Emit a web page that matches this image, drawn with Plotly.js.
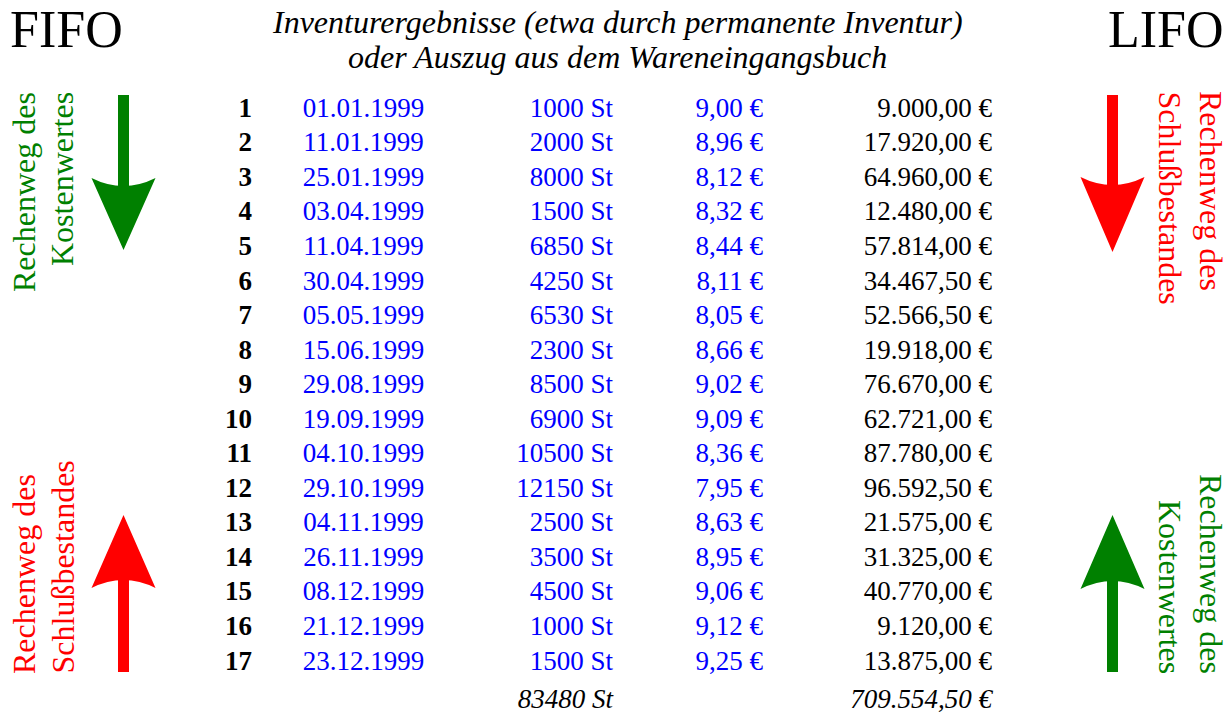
<!DOCTYPE html>
<html><head><meta charset="utf-8">
<script src="https://cdn.plot.ly/plotly-3.0.1.min.js"></script>
<style>html,body{margin:0;padding:0;background:#fff}</style>
</head><body><div id="chart" style="width:1231px;height:717px"></div>
<script>
// ---- data ----
const rowNumbers = [1,2,3,4,5,6,7,8,9,10,11,12,13,14,15,16,17];
const dates = ["01.01.1999","11.01.1999","25.01.1999","03.04.1999","11.04.1999","30.04.1999","05.05.1999","15.06.1999","29.08.1999","19.09.1999","04.10.1999","29.10.1999","04.11.1999","26.11.1999","08.12.1999","21.12.1999","23.12.1999"];
const quantities = [1000,2000,8000,1500,6850,4250,6530,2300,8500,6900,10500,12150,2500,3500,4500,1000,1500];
const prices = [9.00,8.96,8.12,8.32,8.44,8.11,8.05,8.66,9.02,9.09,8.36,7.95,8.63,8.95,9.06,9.12,9.25];
const amounts = [9000.00,17920.00,64960.00,12480.00,57814.00,34467.50,52566.50,19918.00,76670.00,62721.00,87780.00,96592.50,21575.00,31325.00,40770.00,9120.00,13875.00];
const totalQuantity = 83480;
const totalAmount = 709554.50;
const titleLines = ["Inventurergebnisse (etwa durch permanente Inventur)","oder Auszug aus dem Wareneingangsbuch"];

// ---- helpers ----
function de(n){
  const parts = n.toFixed(2).split(".");
  const int = parts[0].replace(/\B(?=(\d{3})+(?!\d))/g,".");
  return int + "," + parts[1];
}
const W = 1231, H = 717;
const FONT = "Liberation Serif, Times New Roman, serif";
const BLUE = "#0000ff", GREEN = "#008000", RED = "#ff0000";
const totalRow = rowNumbers.length + 1.12;
const fx = x => x / W;
const fy = y => 1 - y / H;

function col(xpos, texts, pos, color, bold, italic, rows){
  return {
    type:"scatter", mode:"text",
    x: (rows||rowNumbers).map(()=>xpos), y: rows||rowNumbers,
    text: texts, textposition: pos,
    textfont:{family:FONT, size:27, color:color, weight: bold?"bold":"normal", style: italic?"italic":"normal"},
    hoverinfo:"skip", showlegend:false, cliponaxis:false
  };
}

const traces = [
  col(252, rowNumbers.map(String), "middle left", "#000", true),
  col(363.5, dates, "middle center", BLUE),
  col(613, quantities.map(q=>q+" St"), "middle left", BLUE),
  col(763, prices.map(p=>de(p)+" €"), "middle left", BLUE),
  col(992, amounts.map(a=>de(a)+" €"), "middle left", "#000"),
  col(613, [totalQuantity+" St"], "middle left", "#000", false, true, [totalRow]),
  col(992, [de(totalAmount)+" €"], "middle left", "#000", false, true, [totalRow])
];

function arrowShapes(cx, tipY, baseY, headY, color, down){
  const half = 32, shaftHalf = 5.5;
  const notch = down ? headY + 16 : headY - 16;
  const shaftEnd = down ? headY + 10 : headY - 10;
  return [
    {type:"rect", xref:"paper", yref:"paper", x0:fx(cx-shaftHalf), x1:fx(cx+shaftHalf), y0:fy(baseY), y1:fy(shaftEnd), fillcolor:color, line:{width:0}},
    {type:"path", xref:"paper", yref:"paper",
     path:`M${fx(cx-half)},${fy(headY)} Q${fx(cx)},${fy(notch)} ${fx(cx+half)},${fy(headY)} L${fx(cx)},${fy(tipY)} Z`,
     fillcolor:color, line:{width:0}}
  ];
}

const shapes = [].concat(
  arrowShapes(123.5, 250, 95, 178, GREEN, true),
  arrowShapes(123.5, 515, 672, 588, RED, false),
  arrowShapes(1112.5, 252, 95, 177, RED, true),
  arrowShapes(1112.5, 515, 672, 589, GREEN, false)
);

function ann(text, x, y, opts){
  return Object.assign({text:text, x:fx(x), y:fy(y), xref:"paper", yref:"paper", showarrow:false,
    font:{family:FONT, size:32, color:"#000"}}, opts);
}
const vfont = c => ({family:FONT, size:32, color:c});

const annotations = [
  ann("FIFO", 8, 29, {xanchor:"left", yanchor:"middle", font:{family:FONT, size:52, color:"#000"}}),
  ann("LIFO", 1226, 29, {xanchor:"right", yanchor:"middle", font:{family:FONT, size:52, color:"#000"}}),
  ann(titleLines[0], 617, 22, {xanchor:"center", yanchor:"middle", font:{family:FONT, size:32, color:"#000", style:"italic"}}),
  ann(titleLines[1], 617, 57, {xanchor:"center", yanchor:"middle", font:{family:FONT, size:32, color:"#000", style:"italic"}}),
  // left top
  ann("Rechenweg des", 24, 90, {textangle:-90, xanchor:"center", yanchor:"top", font:vfont(GREEN)}),
  ann("Kostenwertes", 62, 90, {textangle:-90, xanchor:"center", yanchor:"top", font:vfont(GREEN)}),
  // left bottom
  ann("Rechenweg des", 24, 676, {textangle:-90, xanchor:"center", yanchor:"bottom", font:vfont(RED)}),
  ann("Schlußbestandes", 62, 676, {textangle:-90, xanchor:"center", yanchor:"bottom", font:vfont(RED)}),
  // right top
  ann("Rechenweg des", 1211, 89, {textangle:90, xanchor:"center", yanchor:"top", font:vfont(RED)}),
  ann("Schlußbestandes", 1170, 89, {textangle:90, xanchor:"center", yanchor:"top", font:vfont(RED)}),
  // right bottom
  ann("Rechenweg des", 1211, 676, {textangle:90, xanchor:"center", yanchor:"bottom", font:vfont(GREEN)}),
  ann("Kostenwertes", 1170, 676, {textangle:90, xanchor:"center", yanchor:"bottom", font:vfont(GREEN)})
];

const pitch = 34.55, firstY = 110;
const yTop = 1 - firstY / pitch, yBot = 1 + (H - firstY) / pitch;

const layout = {
  width:W, height:H, margin:{l:0,r:0,t:0,b:0},
  paper_bgcolor:"#fff", plot_bgcolor:"#fff",
  xaxis:{range:[0,W], visible:false, fixedrange:true},
  yaxis:{range:[yBot,yTop], visible:false, fixedrange:true},
  shapes:shapes, annotations:annotations, showlegend:false
};
Plotly.newPlot("chart", traces, layout, {displayModeBar:false, staticPlot:true});
</script></body></html>
